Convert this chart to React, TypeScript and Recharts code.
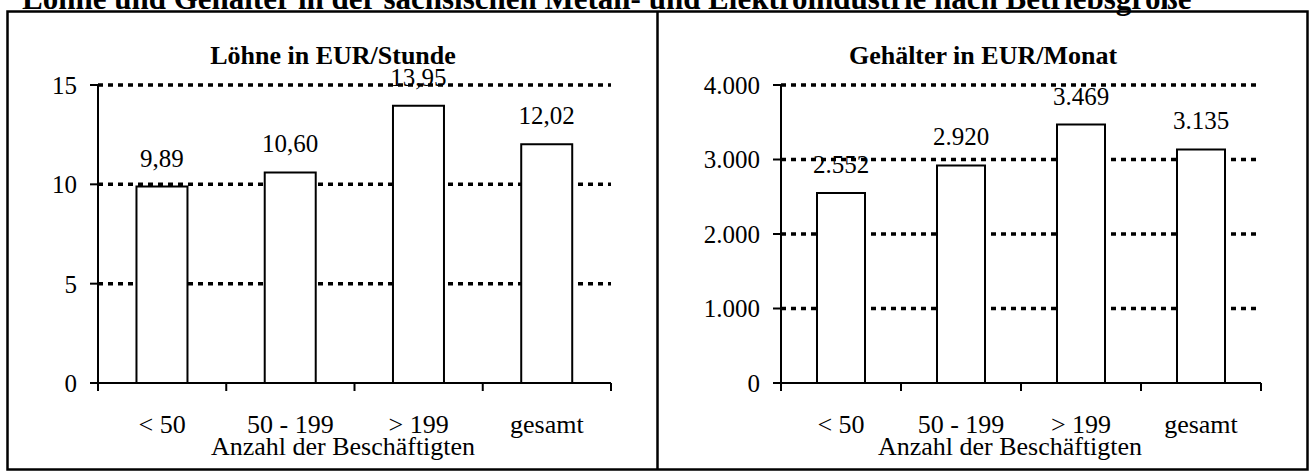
import React from 'react';
import { BarChart, Bar, XAxis, YAxis, CartesianGrid, LabelList } from 'recharts';

const categories = ['< 50', '50 - 199', '> 199', 'gesamt'];
const wages = [9.89, 10.6, 13.95, 12.02];
const salaries = [2552, 2920, 3469, 3135];
const wageTicks = [0, 5, 10, 15];
const salaryTicks = [0, 1000, 2000, 3000, 4000];

const mainTitle = 'Löhne und Gehälter in der sächsischen Metall- und Elektroindustrie nach Betriebsgröße';
const wageTitle = 'Löhne in EUR/Stunde';
const salaryTitle = 'Gehälter in EUR/Monat';
const axisTitle = 'Anzahl der Beschäftigten';

const FONT = 'Liberation Serif';

const wageData = categories.map((c, i) => ({ cat: c, v: wages[i] }));
const salaryData = categories.map((c, i) => ({ cat: c, v: salaries[i] }));

const fmtComma = (v: number) => v.toFixed(2).replace('.', ',');
const fmtThousands = (v: number) => {
  const s = Math.round(v).toString();
  return s.replace(/\B(?=(\d{3})+(?!\d))/g, '.');
};

const CatTick = (props: any) => {
  const { x, y, payload, index, visibleTicksCount, width } = props;
  const half = payload && payload.offset ? payload.offset : width / visibleTicksCount / 2;
  return (
    <g>
      <line x1={x - half} x2={x - half} y1={y} y2={y + 8} stroke="#000" strokeWidth={2} />
      {index === visibleTicksCount - 1 && (
        <line x1={x + half} x2={x + half} y1={y} y2={y + 8} stroke="#000" strokeWidth={2} />
      )}
      <text x={x} y={y + 50} textAnchor="middle" fill="#000" fontSize={26} fontFamily={FONT}>
        {payload.value}
      </text>
    </g>
  );
};

type PanelProps = {
  data: { cat: string; v: number }[];
  ticks: number[];
  tickFmt: (v: number) => string;
  labelFmt: (v: number) => string;
  width: number;
  yAxisWidth: number;
  rightMargin: number;
};

const Panel = ({ data, ticks, tickFmt, labelFmt, width, yAxisWidth, rightMargin }: PanelProps) => (
  <BarChart
    width={width}
    height={476}
    data={data}
    margin={{ top: 85, right: rightMargin, bottom: 33, left: 0 }}
    barCategoryGap="30%"
  >
    <CartesianGrid
      vertical={false}
      horizontalValues={ticks.filter((t) => t !== 0)}
      stroke="#000"
      strokeWidth={3.5}
      strokeDasharray="5 5"
    />
    <XAxis
      dataKey="cat"
      height={60}
      interval={0}
      tickLine={false}
      tickSize={0}
      tickMargin={0}
      axisLine={{ stroke: '#000', strokeWidth: 2 }}
      tick={<CatTick />}
    />
    <YAxis
      width={yAxisWidth}
      domain={[ticks[0], ticks[ticks.length - 1]]}
      ticks={ticks}
      interval={0}
      tickFormatter={tickFmt}
      tickSize={8}
      tickMargin={13}
      tickLine={{ stroke: '#000', strokeWidth: 2 }}
      axisLine={{ stroke: '#000', strokeWidth: 2 }}
      tick={{ fill: '#000', fontSize: 25, fontFamily: FONT }}
    />
    <Bar dataKey="v" fill="#fff" stroke="#000" strokeWidth={2} isAnimationActive={false}>
      <LabelList
        dataKey="v"
        position="top"
        offset={20}
        formatter={(v: any) => labelFmt(Number(v))}
        fill="#000"
        fontSize={25}
        fontFamily={FONT}
      />
    </Bar>
  </BarChart>
);

export default function App() {
  return (
    <div style={{ position: 'absolute', left: 0, top: 0, width: 1310, height: 476, background: '#fff', fontFamily: FONT, overflow: 'hidden' }}>
      <svg width={1310} height={476} style={{ position: 'absolute', left: 0, top: 0 }}>
        <text x={22} y={9} fontSize={31} fontWeight="bold" fill="#000" fontFamily={FONT}>{mainTitle}</text>
        <rect x={7.5} y={11.5} width={1300} height={458} fill="none" stroke="#000" strokeWidth={2.5} />
        <line x1={657.5} x2={657.5} y1={11.5} y2={469.5} stroke="#000" strokeWidth={2.5} />
        <text x={333} y={64} fontSize={26} fontWeight="bold" textAnchor="middle" fill="#000" fontFamily={FONT}>{wageTitle}</text>
        <text x={983} y={64} fontSize={26} fontWeight="bold" textAnchor="middle" fill="#000" fontFamily={FONT}>{salaryTitle}</text>
        <text x={343} y={455} fontSize={26} textAnchor="middle" fill="#000" fontFamily={FONT}>{axisTitle}</text>
        <text x={1010} y={455} fontSize={26} textAnchor="middle" fill="#000" fontFamily={FONT}>{axisTitle}</text>
      </svg>
      <div style={{ position: 'absolute', left: 0, top: 0 }}>
        <Panel data={wageData} ticks={wageTicks} tickFmt={(v) => String(v)} labelFmt={fmtComma} width={660} yAxisWidth={98} rightMargin={49} />
      </div>
      <div style={{ position: 'absolute', left: 660, top: 0 }}>
        <Panel data={salaryData} ticks={salaryTicks} tickFmt={fmtThousands} labelFmt={fmtThousands} width={650} yAxisWidth={121} rightMargin={49} />
      </div>
    </div>
  );
}
